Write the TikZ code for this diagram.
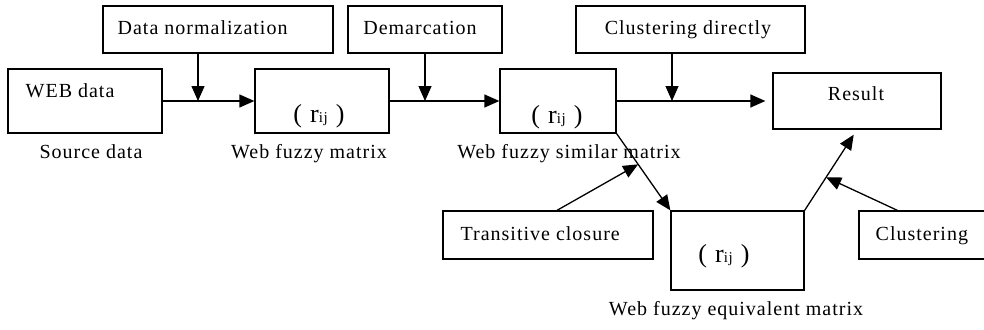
\documentclass[tikz,border=0pt]{standalone}
\usepackage{fontspec}
\setmainfont{Liberation Serif}[LetterSpace=5]
\usetikzlibrary{arrows.meta,calc}
\tikzset{>={Triangle[length=15pt,width=13pt]}}
\tikzset{box/.style={draw, inner sep=0pt}, txt/.style={inner sep=0pt}}
\newcommand{\rij}{{\fontsize{26}{28}\selectfont(\hspace{8pt}r{\fontsize{15}{15}\selectfont ij}\hspace{8pt})}}

\begin{document}
\begin{tikzpicture}[x=1pt, y=-1pt, line width=1.3pt, font=\fontsize{20}{23}\selectfont]
    \useasboundingbox (0,0) rectangle (984,329);
    \node [box, minimum width=230, minimum height=47] (norm) at (218,29.5) {};
    \node [box, minimum width=154, minimum height=47] (dem) at (425,29.5) {};
    \node [box, minimum width=229, minimum height=47] (cd) at (690.5,29.5) {};
    \node [box, minimum width=154, minimum height=64] (web) at (85,101) {};
    \node [box, minimum width=134, minimum height=64] (m1) at (322,101) {};
    \node [box, minimum width=116, minimum height=64] (m2) at (558,101) {};
    \node [box, minimum width=168, minimum height=56] (res) at (857,101) {};
    \node [box, minimum width=210, minimum height=48] (tc) at (548,235) {};
    \node [box, minimum width=133, minimum height=79] (m3) at (737.5,250.5) {};
    \node [box, minimum width=141, minimum height=48] (cl) at (929.5,235) {};

    \node [txt, anchor=base west] (normtext) at (117,35) {Data normalization};
    \node [txt, anchor=base] (demtext) at (420,35) {Demarcation};
    \node [txt, anchor=base] (cdtext) at (688,35) {Clustering directly};
    \node [txt, anchor=base west] (webtext) at (25,97) {WEB data};
    \node [txt, anchor=base] (restext) at (856,100) {Result};
    \node [txt, anchor=base west] (tctext) at (460,240) {Transitive closure};
    \node [txt, anchor=base west] (cltext) at (875,240) {Clustering};
    \node [txt, anchor=base] (m1text) at (319,122) {\rij};
    \node [txt, anchor=base] (m2text) at (557,123) {\rij};
    \node [txt, anchor=base] (m3text) at (724,262) {\rij};

    \node [txt, anchor=base] (srclbl) at (91,158) {Source data};
    \node [txt, anchor=base] (m1lbl) at (309,158) {Web fuzzy matrix};
    \node [txt, anchor=base] (m2lbl) at (569,158) {Web fuzzy similar matrix};
    \node [txt, anchor=base] (m3lbl) at (736,315) {Web fuzzy equivalent matrix};

    \coordinate (j1) at (198,101);
    \coordinate (j3) at (672,101);
    \coordinate (j4) at ($(m2.south east)!0.4!(m3.north west)$);
    \coordinate (j5) at ($(m3.north east)!0.41!(res.south)$);

    \draw [->] (web.east) -- (m1.west);
    \draw [->] (j1 |- norm.south) -- (j1);
    \draw [->] (m1.east) -- (m2.west);
    \draw [->] (dem.south) -- (dem.south |- m1.east);
    \draw [->, shorten >=7pt] (m2.east) -- (res.west);
    \draw [->] (j3 |- cd.south) -- (j3);
    \draw [->] (m2.south east) -- (m3.north west);
    \draw [->] ([xshift=9pt]tc.north) -- (j4);
    \draw [->, shorten >=6pt] (m3.north east) -- (res.south);
    \draw [->] ([xshift=39pt]cl.north west) -- (j5);
\end{tikzpicture}
\end{document}
